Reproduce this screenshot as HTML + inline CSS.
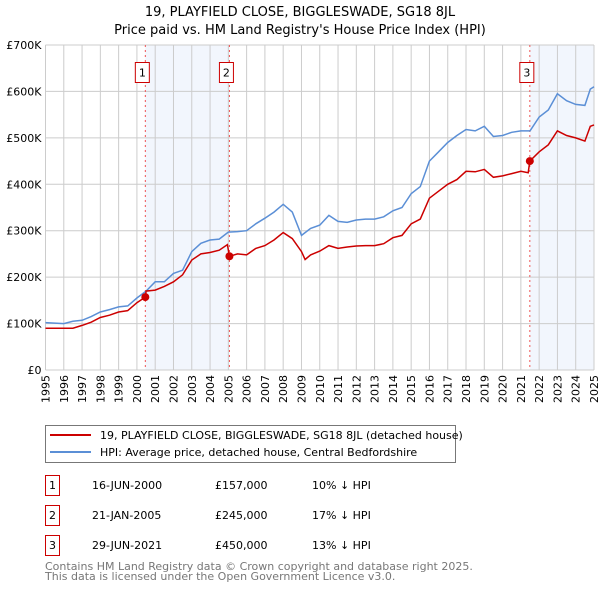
<!DOCTYPE html>
<html><head><meta charset="utf-8"><style>
body{margin:0;background:#fff;font-family:"DejaVu Sans","Liberation Sans",sans-serif;}
svg{display:block}
</style></head><body>
<svg id="c" width="600" height="590" xmlns="http://www.w3.org/2000/svg" font-family="DejaVu Sans, Liberation Sans, sans-serif">
<text x="300" y="16" text-anchor="middle" font-size="13">19, PLAYFIELD CLOSE, BIGGLESWADE, SG18 8JL</text>
<text x="300" y="34" text-anchor="middle" font-size="13">Price paid vs. HM Land Registry's House Price Index (HPI)</text>
<g id="plot"></g>
<g>
<rect x="45.5" y="425.5" width="410" height="37" fill="#fff" stroke="#777"/>
<line x1="50" y1="435" x2="91" y2="435" stroke="#cc0000" stroke-width="2"/>
<text x="100" y="439" font-size="11">19, PLAYFIELD CLOSE, BIGGLESWADE, SG18 8JL (detached house)</text>
<line x1="50" y1="452" x2="91" y2="452" stroke="#5b8fd6" stroke-width="2"/>
<text x="100" y="456" font-size="11">HPI: Average price, detached house, Central Bedfordshire</text>
</g>
<g font-size="11">
<rect x="45.5" y="475.5" width="14" height="20" fill="#fff" stroke="#cc0000"/><text x="52.5" y="489" text-anchor="middle">1</text>
<text x="92" y="489">16-JUN-2000</text><text x="215" y="489">£157,000</text><text x="312" y="489">10% ↓ HPI</text>
<rect x="45.5" y="505.5" width="14" height="20" fill="#fff" stroke="#cc0000"/><text x="52.5" y="519" text-anchor="middle">2</text>
<text x="92" y="519">21-JAN-2005</text><text x="215" y="519">£245,000</text><text x="312" y="519">17% ↓ HPI</text>
<rect x="45.5" y="535.5" width="14" height="20" fill="#fff" stroke="#cc0000"/><text x="52.5" y="549" text-anchor="middle">3</text>
<text x="92" y="549">29-JUN-2021</text><text x="215" y="549">£450,000</text><text x="312" y="549">13% ↓ HPI</text>
</g>
<text x="45" y="570" font-size="11" fill="#777">Contains HM Land Registry data © Crown copyright and database right 2025.</text>
<text x="45" y="580" font-size="11" fill="#777">This data is licensed under the Open Government Licence v3.0.</text>
</svg>
<script>
const hpiYears=[1995,1996,1996.5,1997,1997.5,1998,1998.5,1999,1999.5,2000,2000.5,2001,2001.5,2002,2002.5,2003,2003.5,2004,2004.5,2005,2005.5,2006,2006.5,2007,2007.5,2008,2008.5,2009,2009.5,2010,2010.5,2011,2011.5,2012,2012.5,2013,2013.5,2014,2014.5,2015,2015.5,2016,2016.5,2017,2017.5,2018,2018.5,2019,2019.5,2020,2020.5,2021,2021.5,2022,2022.5,2023,2023.5,2024,2024.5,2024.8,2025];
const hpiValues=[102,100,105,107,115,125,130,136,138,155,170,190,190,208,215,255,273,280,282,297,298,300,315,327,340,357,340,290,305,312,333,320,318,323,325,325,330,343,350,380,395,450,470,490,505,518,515,525,503,505,512,515,515,545,560,595,580,572,570,605,610];
const propYears=[1995,1996,1996.5,1997,1997.5,1998,1998.5,1999,1999.5,2000,2000.46,2000.5,2001,2001.5,2002,2002.5,2003,2003.5,2004,2004.5,2004.95,2005.06,2005.5,2006,2006.5,2007,2007.5,2008,2008.5,2009,2009.2,2009.5,2010,2010.5,2011,2011.5,2012,2012.5,2013,2013.5,2014,2014.5,2015,2015.5,2016,2016.5,2017,2017.5,2018,2018.5,2019,2019.5,2020,2020.5,2021,2021.4,2021.49,2022,2022.5,2023,2023.5,2024,2024.5,2024.8,2025];
const propValues=[90,90,90,96,103,113,118,125,128,145,157,170,172,180,190,205,237,250,253,258,270,245,250,248,262,268,280,296,283,255,238,248,256,268,262,265,267,268,268,272,285,290,315,325,370,385,400,410,428,427,432,415,418,423,428,425,450,470,485,515,505,500,493,525,528];
const saleLabels=["1","2","3"];
const saleYears=[2000.46,2005.06,2021.49];
const saleValues=[157,245,450];
const yTicks=[0,100,200,300,400,500,600,700];
const yTickLabels=["£0","£100K","£200K","£300K","£400K","£500K","£600K","£700K"];

const NS="http://www.w3.org/2000/svg";
const X0=45.5,X1=594,Y0=370,Y1=45,XMIN=1995,XMAX=2025,YMAX=700;
const xs=v=>X0+(v-XMIN)/(XMAX-XMIN)*(X1-X0);
const ys=v=>Y0-v/YMAX*(Y0-Y1);
const g=document.getElementById('plot');
function mk(t,a){const e=document.createElementNS(NS,t);for(const k in a)e.setAttribute(k,a[k]);g.appendChild(e);return e;}
const sh1=mk('rect',{x:xs(saleYears[0]),y:Y1,width:xs(saleYears[1])-xs(saleYears[0]),height:Y0-Y1,fill:'#f2f6fd'});


const sh2=mk('rect',{x:xs(saleYears[2]),y:Y1,width:X1-xs(saleYears[2]),height:Y0-Y1,fill:'#f2f6fd'});


for(let y=XMIN;y<=XMAX;y++){
  const l=mk('line',{x1:xs(y),x2:xs(y),y1:Y1,y2:Y0,stroke:'#ccc','stroke-width':1});
  
  
  const t=mk('text',{x:0,y:0,'font-size':11,'text-anchor':'end',transform:`translate(${xs(y)+4},${Y0+5}) rotate(-90)`});
  t.textContent=String(y);
  
  
}
yTicks.forEach((v,i)=>{
  const l=mk('line',{x1:X0,x2:X1,y1:ys(v),y2:ys(v),stroke:'#ccc','stroke-width':1});
  
  
  const t=mk('text',{x:X0-4,y:ys(v)+4,'font-size':11,'text-anchor':'end'});
  t.textContent=yTickLabels[i];
  
  
});
saleYears.forEach((yr,i)=>{
  const l=mk('line',{x1:xs(yr),x2:xs(yr),y1:Y1,y2:Y0,stroke:'#e55','stroke-width':1,'stroke-dasharray':'2,3'});
  
  
  const r=mk('rect',{x:xs(yr)-10,y:62.5,width:14,height:20,fill:'#fff',stroke:'#cc0000'});
  
  
  const t=mk('text',{x:xs(yr)-3,y:76.5,'font-size':11,'text-anchor':'middle'});
  t.textContent=saleLabels[i];
  
  
});
function pts(xa,va){return xa.map((x,i)=>xs(x).toFixed(1)+','+ys(va[i]).toFixed(1)).join(' ');}
const hp=mk('polyline',{points:pts(hpiYears,hpiValues),fill:'none',stroke:'#5b8fd6','stroke-width':1.5});


const pp=mk('polyline',{points:pts(propYears,propValues),fill:'none',stroke:'#cc0000','stroke-width':1.5});


saleYears.forEach((yr,i)=>{
  const c=mk('circle',{cx:xs(yr),cy:ys(saleValues[i]),r:4,fill:'#cc0000'});
  
  
});
</script>
</body></html>
